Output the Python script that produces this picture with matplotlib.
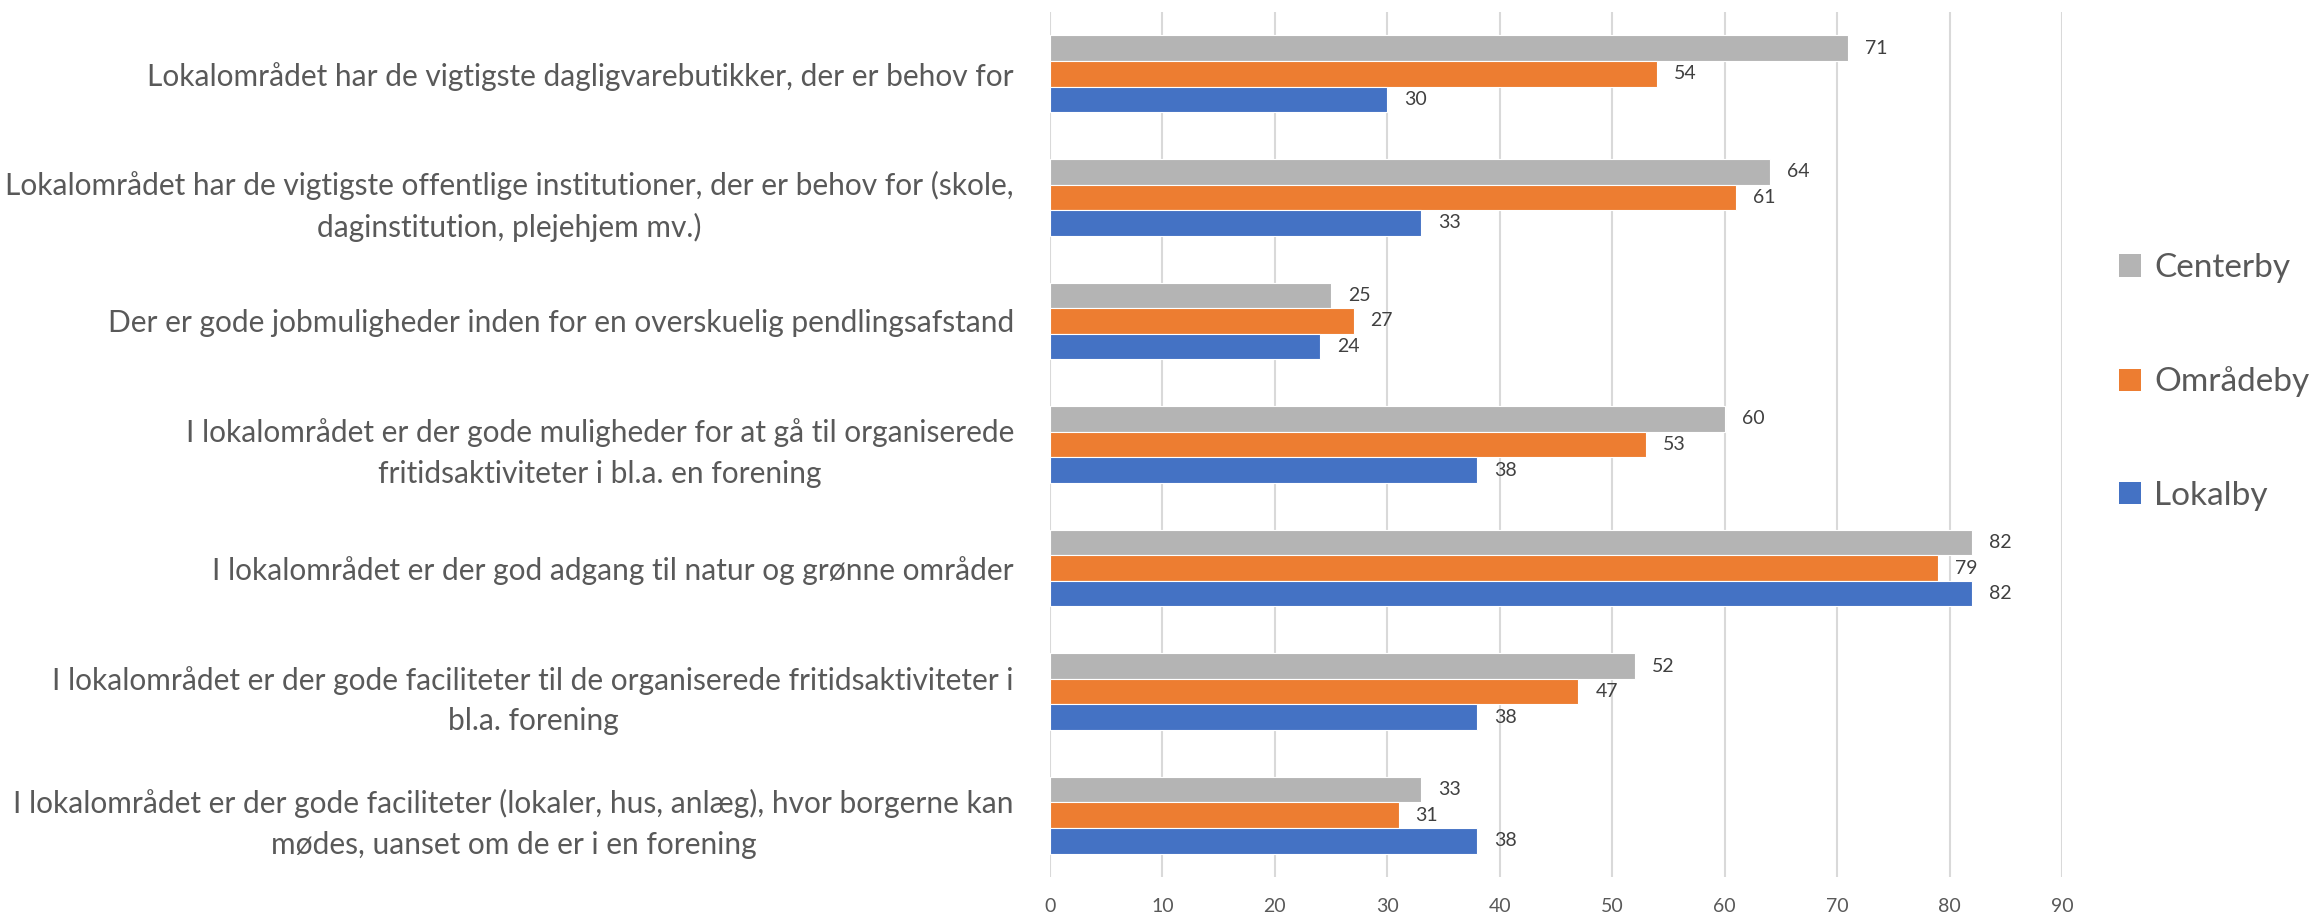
import matplotlib
matplotlib.use("Agg")
import matplotlib.pyplot as plt
import numpy as np
from matplotlib.patches import Patch

# ---- data (top to bottom as in the chart) ----
categories = [
    "Lokalområdet har de vigtigste dagligvarebutikker, der er behov for",
    "Lokalområdet har de vigtigste offentlige institutioner, der er behov for (skole,\ndaginstitution, plejehjem mv.)",
    "Der er gode jobmuligheder inden for en overskuelig pendlingsafstand",
    "I lokalområdet er der gode muligheder for at gå til organiserede\nfritidsaktiviteter i bl.a. en forening",
    "I lokalområdet er der god adgang til natur og grønne områder",
    "I lokalområdet er der gode faciliteter til de organiserede fritidsaktiviteter i\nbl.a. forening",
    "I lokalområdet er der gode faciliteter (lokaler, hus, anlæg), hvor borgerne kan\nmødes, uanset om de er i en forening",
]
centerby = [71, 64, 25, 60, 82, 52, 33]
omraadeby = [54, 61, 27, 53, 79, 47, 31]
lokalby = [30, 33, 24, 38, 82, 38, 38]
series_names = ["Centerby", "Områdeby", "Lokalby"]
xticks = [0, 10, 20, 30, 40, 50, 60, 70, 80, 90]

colors = {"Centerby": "#B4B4B4", "Områdeby": "#ED7D31", "Lokalby": "#4472C4"}
TXT = "#595959"

plt.rcParams["font.family"] = ["Lato", "DejaVu Sans"]

fig = plt.figure(figsize=(23.16, 9.19), dpi=100)
ax = fig.add_axes([1050 / 2316, 1 - 877 / 919, (2062 - 1050) / 2316, (877 - 12) / 919])

n = len(categories)
y = np.arange(n)  # 0 = top after inversion
h = 0.207
offsets = {"Centerby": -h, "Områdeby": 0.0, "Lokalby": h}
vals = {"Centerby": centerby, "Områdeby": omraadeby, "Lokalby": lokalby}

for name in series_names:
    bars = ax.barh(y + offsets[name], vals[name], height=h, color=colors[name],
                   edgecolor="white", linewidth=0.8, zorder=3)
    for b, v in zip(bars, vals[name]):
        ax.text(b.get_width() + 1.5, b.get_y() + b.get_height() / 2, str(v),
                va="center", ha="left", fontsize=14, color="#404040")

ax.set_ylim(n - 0.5, -0.5)
ax.set_xlim(0, 90)
ax.set_xticks(xticks)
ax.set_xticklabels([str(t) for t in xticks], fontsize=14, color=TXT)
ax.set_yticks(y)
ax.set_yticklabels(categories, fontsize=21.5, color=TXT, multialignment="center",
                   linespacing=1.55)
ax.tick_params(axis="both", length=0)
ax.tick_params(axis="y", pad=26)
ax.tick_params(axis="x", pad=15)
ax.grid(axis="x", color="#D9D9D9", linewidth=1.5, zorder=0)
for s in ax.spines.values():
    s.set_visible(False)

handles = [Patch(facecolor=colors[nm], edgecolor="none") for nm in series_names]
fig.legend(handles, series_names, loc="center left", bbox_to_anchor=(2119 / 2316, 1 - 382 / 919),
           frameon=False, fontsize=24, labelcolor=TXT, handlelength=0.65, handleheight=0.65,
           handletextpad=0.4, labelspacing=2.5, borderpad=0, borderaxespad=0)

fig.savefig("out.png", dpi=100)
